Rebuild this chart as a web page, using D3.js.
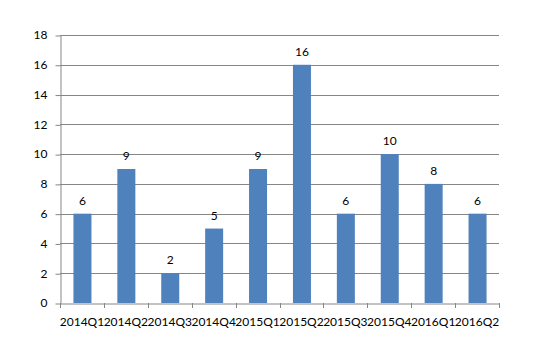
<!DOCTYPE html>
<html><head><meta charset="utf-8">
<script src="https://cdn.jsdelivr.net/npm/d3@7"></script>
<style>body{margin:0;background:#fff}svg{display:block}</style>
</head><body><svg id="c" width="538" height="360"></svg>
<script>
const categories = ["2014Q1","2014Q2","2014Q3","2014Q4","2015Q1","2015Q2","2015Q3","2015Q4","2016Q1","2016Q2"];
const values = [6,9,2,5,9,16,6,10,8,6];
const yTicks = [0,2,4,6,8,10,12,14,16,18];

const svg = d3.select("#c");
const m = {left:60, right:39, top:35, bottom:57};
const W = 538, H = 360;
const x = d3.scaleBand().domain(categories).range([m.left, W - m.right]).paddingInner(0.6).paddingOuter(0.3);
const xb = d3.scaleBand().domain(categories).range([m.left, W - m.right]);
const y = d3.scaleLinear().domain([0,18]).range([H - m.bottom, m.top]);
const font = "Lato, 'Open Sans', sans-serif";

// gridlines
svg.append("g").selectAll("line").data(yTicks.filter(d=>d>0)).join("line")
  .attr("x1", m.left).attr("x2", W - m.right)
  .attr("y1", d=>Math.round(y(d))+0.5).attr("y2", d=>Math.round(y(d))+0.5)
  .attr("stroke", "#868686").attr("stroke-width", 1);

// y axis
const ya = svg.append("g").attr("transform", `translate(${m.left+0.5},0)`)
  .call(d3.axisLeft(y).tickValues(yTicks).tickSize(5).tickPadding(8).tickSizeOuter(0));
ya.select(".domain").attr("stroke", "#868686");
ya.selectAll(".tick line").attr("stroke", "#868686").attr("transform","translate(0,0.5)");
ya.selectAll("text").attr("font-family", font).attr("font-size", 12).attr("fill", "#000");

// bars
svg.append("g").selectAll("rect").data(values).join("rect")
  .attr("x", (d,i)=>xb(categories[i]) + (xb.bandwidth()-18)/2 + 0.5)
  .attr("width", 18)
  .attr("y", d=>y(d))
  .attr("height", d=>y(0)-y(d))
  .attr("fill", "#4F81BD");

// x axis
const xa = svg.append("g").attr("transform", `translate(0,${Math.round(y(0))+0.5})`)
  .call(d3.axisBottom(xb).tickSize(0).tickPadding(14).tickSizeOuter(0));
xa.select(".domain").attr("stroke", "#868686");
xa.selectAll("text").attr("font-family", font).attr("font-size", 12).attr("fill", "#000");
// category boundary ticks
svg.append("g").selectAll("line").data(d3.range(categories.length+1)).join("line")
  .attr("x1", i=>Math.round(m.left + i*xb.step())+0.5).attr("x2", i=>Math.round(m.left + i*xb.step())+0.5)
  .attr("y1", Math.round(y(0))).attr("y2", Math.round(y(0))+5)
  .attr("stroke", "#868686");

// value labels
svg.append("g").selectAll("text").data(values).join("text")
  .attr("x", (d,i)=>xb(categories[i]) + xb.bandwidth()/2 + 0.5)
  .attr("y", d=>y(d) - 13)
  .attr("dy", "0.35em")
  .attr("text-anchor", "middle")
  .attr("font-family", font).attr("font-size", 12).attr("fill", "#000")
  .text(d=>d);
</script></body></html>
